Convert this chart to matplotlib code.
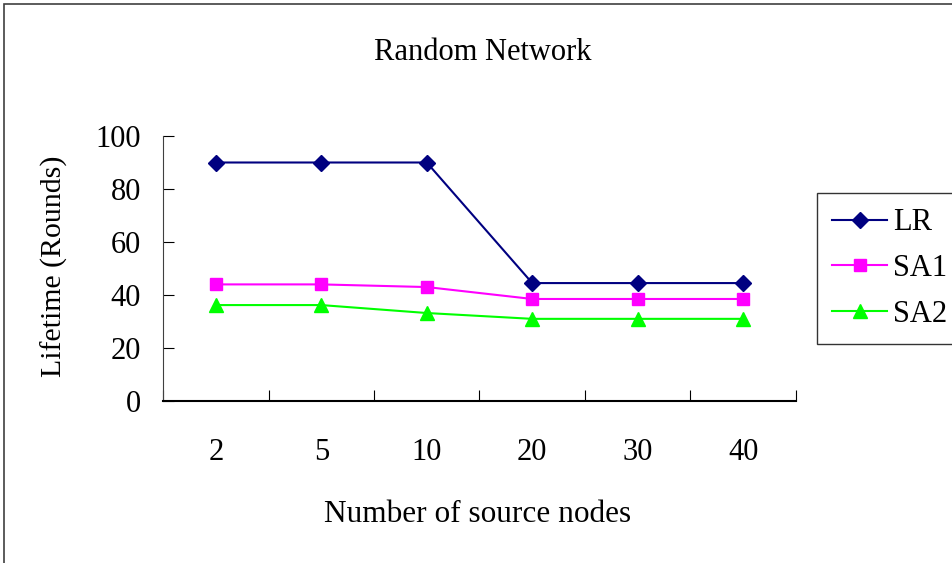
import matplotlib
matplotlib.use('Agg')
import matplotlib.pyplot as plt
from matplotlib.patches import Rectangle

categories = ['2', '5', '10', '20', '30', '40']
lr = [90, 90, 90, 44.5, 44.5, 44.5]
sa1 = [44, 44, 43, 38.5, 38.5, 38.5]
sa2 = [36.2, 36.2, 33.2, 31, 31, 31]
yticks = [0, 20, 40, 60, 80, 100]

plt.rcParams['font.family'] = ['Liberation Serif', 'DejaVu Serif']

fig = plt.figure(figsize=(9.52, 5.63), dpi=100)
fig.patches.append(Rectangle((4/952, -0.1), 2, 1.1 - 4/563, transform=fig.transFigure,
                             fill=False, edgecolor='#404040', lw=1.2))
ax = fig.add_axes([163/952, 1 - 401/563, 633/952, 265/563])

x = range(len(categories))
ax.plot(x, lr, color='#000080', marker='D', markersize=8, lw=1.5, label='LR', clip_on=False)
ax.plot(x, sa1, color='#ff00ff', marker='s', markersize=9, lw=1.5, label='SA1', clip_on=False)
ax.plot(x, sa2, color='#00ff00', marker='^', markersize=10, lw=1.5, label='SA2', clip_on=False)

ax.set_xlim(-0.5, len(categories) - 0.5)
ax.set_ylim(0, 100)
ax.set_yticks(yticks)
ax.set_xticks([i - 0.5 for i in range(len(categories) + 1)], minor=False)
ax.set_xticklabels([])
ax.set_xticks(list(x), minor=True)
ax.set_xticklabels(categories, minor=True)
ax.tick_params(axis='x', which='major', direction='in', length=8, color='black')
ax.tick_params(axis='x', which='minor', length=0, pad=27, labelsize=22)
ax.tick_params(axis='y', direction='in', length=8, pad=16, labelsize=22)

for s in ['top', 'right']:
    ax.spines[s].set_visible(False)
ax.spines['left'].set_color('#404040')
ax.spines['bottom'].set_color('black')
ax.spines['bottom'].set_linewidth(1.5)

fig.text(483/952, 1 - 52/563, 'Random Network', ha='center', va='center', fontsize=22)
fig.text(478/952, 1 - 514/563, 'Number of source nodes', ha='center', va='center', fontsize=22.5)
fig.text(54/952, 1 - 266/563, 'Lifetime (Rounds)', ha='center', va='center', rotation=90, fontsize=21.5)

leg = fig.legend(loc='upper left', bbox_to_anchor=(817/952, 1 - 193/563), fontsize=22,
                 frameon=True, fancybox=False, edgecolor='black', handlelength=1.8,
                 borderpad=0.5, labelspacing=0.55, handletextpad=0.2, borderaxespad=0)
leg.get_frame().set_linewidth(1.0)

fig.savefig('out.png', dpi=100)
